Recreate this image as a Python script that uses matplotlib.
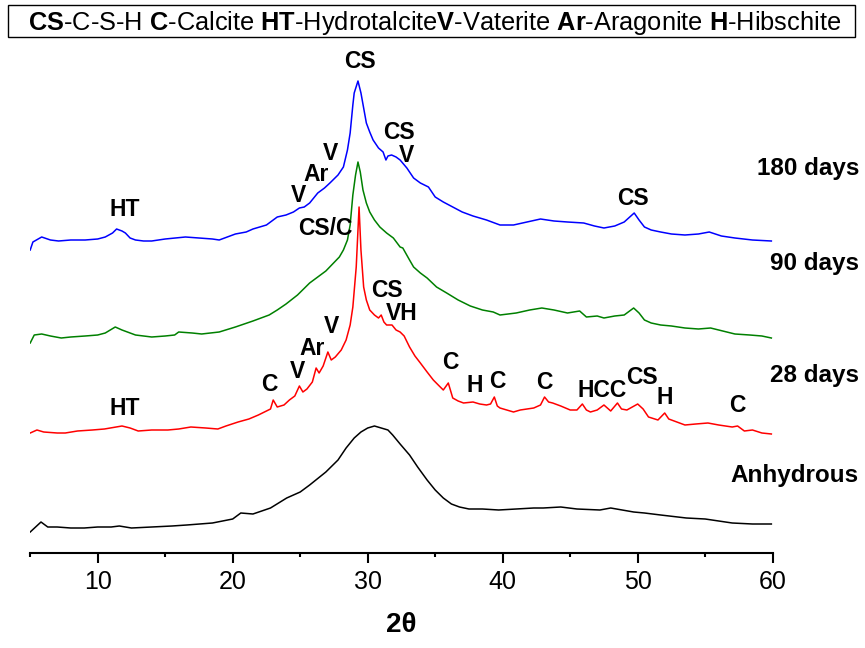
import matplotlib
matplotlib.use("Agg")
import matplotlib.pyplot as plt
from matplotlib.patches import Rectangle

plt.rcParams['font.family'] = ['Liberation Sans', 'DejaVu Sans']
plt.rcParams['mathtext.fontset'] = 'custom'
plt.rcParams['mathtext.rm'] = 'Liberation Sans'
plt.rcParams['mathtext.bf'] = 'Liberation Sans:bold'

# XRD patterns (2theta, relative intensity a.u.)
anh_2t = [5.0, 5.8, 6.3, 7, 8, 9, 10, 11, 11.6, 12.5, 14, 15.5, 16.6, 18.5, 20, 20.6, 21.5, 22.8, 24, 25,
          25.7, 26.9, 27.8, 28.4, 29, 29.5, 30, 30.5, 31, 31.5, 31.85, 32.4, 33.1, 33.7, 34.4, 35, 35.6,
          36.2, 36.8, 37.5, 38.5, 39.7, 41, 42.3, 43, 44.3, 45.5, 47.2, 48, 49.7, 50.5, 51.7, 53.6, 55,
          57, 58.5, 59.9]
anh_int = [3, 13, 8, 8, 7, 7, 8, 8, 9, 7, 8, 9, 10, 12, 16, 22, 21, 27, 37, 43,
           50, 63, 75, 87, 97, 103, 107, 109, 107, 105, 100, 91, 80, 68, 55, 45, 37,
           31, 28, 26, 26, 25, 26, 27, 27, 28, 26, 25, 27, 23, 22, 20, 17, 16,
           12, 11, 11]

d28_2t = [5.0, 5.5, 6, 7, 7.6, 8.5, 9.6, 10.5, 11.8, 12.4, 13, 14, 15.2, 16.0, 16.9, 18, 18.9, 19.5, 20.4,
          21.2, 21.9, 22.5, 22.8, 23.0, 23.3, 23.8, 24.2, 24.6, 24.94, 25.2, 25.5, 25.9, 26.18, 26.4,
          26.7, 27.05, 27.3, 27.6, 28.04, 28.4, 28.7, 28.9, 29.15, 29.36, 29.5, 29.7, 29.9, 30.15, 30.5,
          30.8, 31.0, 31.2, 31.4, 31.8, 32.1, 32.4, 32.7, 33.1, 33.5, 33.9, 34.4, 34.86, 35.3, 35.6,
          35.97, 36.3, 36.7, 37.1, 37.8, 38.3, 38.8, 39.1, 39.38, 39.6, 39.8, 40.3, 40.8, 41.3, 42.3,
          42.8, 43.1, 43.4, 43.7, 44.3, 45.0, 45.5, 45.9, 46.2, 46.5, 47.0, 47.5, 48.0, 48.5, 48.8,
          49.2, 49.6, 50.0, 50.4, 50.8, 51.5, 52.0, 52.3, 52.5, 53.5, 54.3, 55.2, 56, 57.0, 57.4, 57.9,
          58.5, 59.2, 59.9]
d28_int = [3, 6, 4, 3, 3, 5, 6, 7, 10, 8, 5, 6, 6, 7, 9, 8, 7, 10, 14,
           17, 21, 25, 27, 36, 29, 31, 36, 40, 50, 44, 47, 54, 68, 63,
           70, 84, 76, 79, 86, 96, 111, 129, 169, 229, 186, 149, 136, 126, 121,
           118, 121, 114, 111, 111, 106, 104, 100, 89, 80, 73, 64, 56, 50, 46,
           53, 38, 35, 33, 34, 32, 31, 32, 39, 30, 28, 26, 24, 26, 28,
           31, 39, 34, 33, 30, 26, 26, 32, 26, 24, 26, 31, 25, 33, 27,
           26, 29, 32, 27, 19, 16, 23, 17, 16, 11, 12, 13, 11, 9, 10, 5,
           6, 3, 2]

d90_2t = [5.0, 5.3, 5.85, 6.5, 7.3, 8, 9.07, 10, 10.56, 11.3, 11.8, 12.8, 14, 15, 15.7, 16.0, 17, 17.7,
          19.0, 20.2, 21.5, 22.7, 23.3, 23.95, 24.8, 25.7, 26.3, 26.9, 27.4, 27.9, 28.2, 28.5, 28.7,
          28.9, 29.1, 29.28, 29.45, 29.65, 29.9, 30.15, 30.5, 30.9, 31.4, 31.9, 32.4, 32.6, 33.1, 33.4,
          33.9, 34.4, 35.1, 35.85, 36.7, 37.6, 38.5, 39.3, 39.8, 41, 42.0, 42.9, 43.8, 44.8, 45.7, 46.2,
          47.0, 47.5, 48.3, 49.0, 49.7, 50.1, 50.5, 51.0, 51.7, 52.5, 53.5, 54.5, 55.4, 56.3, 57.2,
          58.3, 59.2, 59.9]
d90_int = [-3, 5, 6, 4, 2, 3, 4, 5, 7, 13, 10, 5, 3, 4, 5, 8, 7, 6,
           8, 13, 19, 25, 30, 36, 45, 57, 63, 69, 76, 83, 90, 100, 115,
           145, 165, 178, 168, 150, 137, 128, 120, 113, 107, 102, 93, 92, 80, 73,
           67, 62, 53, 47, 40, 34, 30, 28, 25, 27, 30, 32, 30, 27, 29, 23,
           24, 22, 24, 25, 32, 27, 20, 17, 15, 14, 12, 11, 12, 9, 6,
           5, 4, 2]

d180_2t = [5.0, 5.2, 5.85, 6.5, 7.1, 8, 9.07, 10, 10.56, 11.1, 11.4, 11.8, 12.05, 12.4, 12.8, 13.4, 14.0,
           15, 16.5, 17.5, 18.5, 19.0, 20.2, 21.0, 21.5, 22.5, 23.3, 23.95, 24.5, 24.94, 25.3, 25.7,
           26.3, 26.8, 27.2, 27.8, 28.2, 28.5, 28.7, 28.9, 29.0, 29.28, 29.5, 29.7, 29.9, 30.15, 30.4,
           30.8, 31.14, 31.35, 31.5, 31.77, 32.1, 32.4, 32.9, 33.4, 33.9, 34.5, 35.0, 35.6, 36.3, 37.0,
           37.8, 38.8, 39.8, 40.8, 41.8, 42.8, 43.8, 44.8, 46.0, 46.8, 47.5, 48.3, 49.0, 49.74, 50.1,
           50.5, 51.0, 51.7, 52.5, 53.5, 54.5, 55.3, 56.2, 57.2, 58.5, 59.9]
d180_int = [-5, 3, 8, 5, 4, 5, 5, 6, 8, 12, 16, 14, 12, 7, 5, 4, 4,
            6, 8, 7, 6, 5, 11, 13, 16, 20, 28, 30, 33, 37, 38, 42,
            52, 57, 62, 70, 78, 95, 112, 140, 152, 164, 152, 137, 122, 113, 105,
            97, 93, 85, 89, 90, 88, 85, 77, 67, 62, 58, 48, 43, 38, 33,
            29, 25, 20, 20, 23, 26, 24, 23, 22, 19, 17, 19, 23, 32, 25,
            18, 15, 13, 11, 10, 11, 13, 9, 7, 5, 4]

legend_txt = (r"$\mathbf{CS}$-C-S-H $\mathbf{C}$-Calcite $\mathbf{HT}$-Hydrotalcite"
              r"$\mathbf{V}$-Vaterite $\mathbf{Ar}$-Aragonite $\mathbf{H}$-Hibschite")

# stacking offsets and peak labels
offsets = {'Anhydrous': 18, '28 days': 117, '90 days': 213, '180 days': 308}
labels_180 = [(11.97, 337, 'HT'), (29.46, 485, 'CS'), (32.35, 414, 'CS'), (32.87, 391, 'V'),
              (27.24, 393, 'V'), (26.2, 372, 'Ar'), (24.87, 351, 'V'), (26.87, 318, 'CS/C'),
              (49.63, 348, 'CS')]
labels_28 = [(11.97, 138, 'HT'), (22.72, 162, 'C'), (24.79, 175, 'V'), (25.9, 198, 'Ar'),
             (27.31, 220, 'V'), (31.46, 256, 'CS'), (32.5, 233, 'VH'), (36.13, 184, 'C'),
             (37.91, 161, 'H'), (39.62, 165, 'C'), (43.1, 164, 'C'), (47.33, 156, 'HCC'),
             (50.29, 169, 'CS'), (51.99, 149, 'H'), (57.41, 141, 'C')]

W, H = 865, 648
fig = plt.figure(figsize=(W / 100, H / 100), dpi=100)
ax = fig.add_axes([30.2 / W, 1 - 553 / H, 742.5 / W, 508 / H])

series = [('Anhydrous', anh_2t, anh_int, 'black'),
          ('28 days', d28_2t, d28_int, 'red'),
          ('90 days', d90_2t, d90_int, 'green'),
          ('180 days', d180_2t, d180_int, 'blue')]
for name, tt, inten, col in series:
    off = offsets[name]
    ax.plot(tt, [v + off for v in inten], color=col, lw=1.1)

for x, y, s in labels_180 + labels_28:
    ax.text(x, y, s, ha='center', va='baseline', fontsize=16.5, fontweight='bold')

ax.set_xlim(5, 60)
ax.set_ylim(0, 508)
ax.set_xticks([10, 20, 30, 40, 50, 60])
ax.set_xticks([5, 15, 25, 35, 45, 55], minor=True)
ax.tick_params(axis='x', which='major', length=7.5, width=1.5, labelsize=18, pad=4.5)
ax.tick_params(axis='x', which='minor', length=3, width=1.5)
ax.set_yticks([])
for sp in ['left', 'right', 'top']:
    ax.spines[sp].set_visible(False)
ax.spines['bottom'].set_linewidth(1.5)
ax.set_xlabel('2θ', fontsize=20, fontweight='bold', labelpad=13)

# sample names on the right
for name, ybase in [('180 days', 175), ('90 days', 270), ('28 days', 382), ('Anhydrous', 482)]:
    fig.text(859 / W, 1 - ybase / H, name, ha='right', va='baseline', fontsize=17.5, fontweight='bold')

# legend box at the top
fig.patches.append(Rectangle((8 / W, 1 - 37 / H), 847 / W, 32 / H, transform=fig.transFigure,
                             fill=False, edgecolor='black', lw=1.0))
fig.text(435 / W, 1 - 30 / H, legend_txt, ha='center', va='baseline', fontsize=18.3)

fig.savefig('out.png', dpi=100)
